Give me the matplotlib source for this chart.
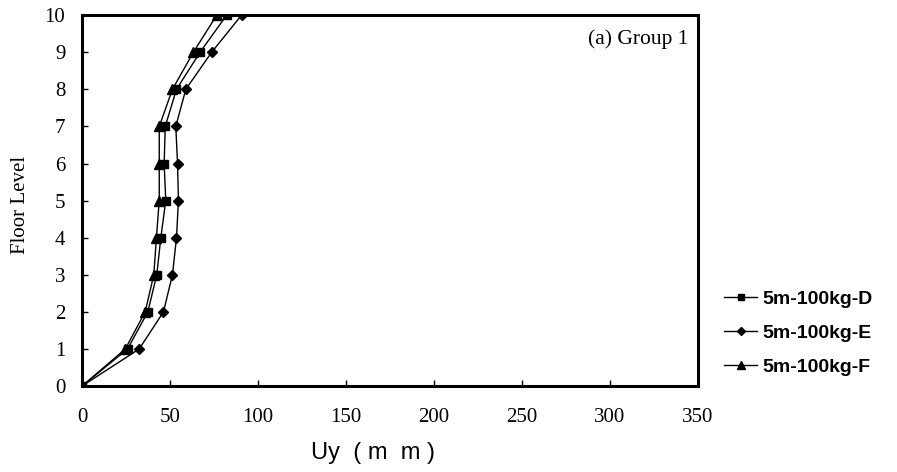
import matplotlib
matplotlib.use("Agg")
from matplotlib import pyplot as plt

# floor-by-floor displacement Uy (mm)
floors = [0, 1, 2, 3, 4, 5, 6, 7, 8, 9, 10]
uy_d = [0, 25.9, 37.4, 42.5, 44.8, 47.6, 46.7, 47.3, 53.7, 67.1, 82.2]
uy_e = [0, 32.5, 46.3, 51.4, 53.7, 54.8, 54.3, 53.3, 59.0, 73.7, 90.7]
uy_f = [0, 24.6, 35.9, 40.8, 42.3, 43.9, 43.9, 43.9, 51.4, 63.3, 76.6]
series_names = ["5m-100kg-D", "5m-100kg-E", "5m-100kg-F"]

x_ticks = [0, 50, 100, 150, 200, 250, 300, 350]
y_ticks = list(range(0, 11))

fig = plt.figure(figsize=(8.97, 4.72), dpi=100)
ax = fig.add_axes([0.0914, 0.182, 0.6867, 0.786])

ax.plot(uy_d, floors, color="black", lw=1.0, marker="s", ms=6, label=series_names[0])
ax.plot(uy_e, floors, color="black", lw=1.0, marker="D", ms=5, label=series_names[1])
ax.plot(uy_f, floors, color="black", lw=1.0, marker="^", ms=6.5, label=series_names[2])

ax.set_xlim(0, 350)
ax.set_ylim(0, 10)
ax.set_xticks(x_ticks)
ax.set_yticks(y_ticks)
ax.tick_params(direction="in", length=4, width=1, labelsize=15)
ax.tick_params(axis="y", pad=12)
ax.tick_params(axis="x", pad=16)
for lab in ax.get_xticklabels() + ax.get_yticklabels():
    lab.set_fontfamily("Liberation Serif")
for sp in ax.spines.values():
    sp.set_linewidth(2.2)

fig.text(21 / 897, 1 - 205 / 472, "Floor Level", rotation=90, ha="center", va="center",
         fontfamily="Liberation Serif", fontsize=15)
fig.text(373 / 897, 1 - 453 / 472, "Uy  ( m  m )", ha="center", va="center",
         fontfamily="Liberation Sans", fontsize=17)

ax.text(0.985, 0.935, "(a) Group 1", transform=ax.transAxes, ha="right", va="center",
        fontfamily="Liberation Serif", fontsize=15.5)

leg = fig.legend(loc="center left", bbox_to_anchor=(0.79, 0.294), frameon=False,
                 borderpad=0.3, handlelength=1.7, handletextpad=0.25, labelspacing=0.85,
                 markerscale=0.8,
                 prop={"family": "Liberation Sans", "weight": "bold", "size": 14})

fig.savefig("out.png", dpi=100)
